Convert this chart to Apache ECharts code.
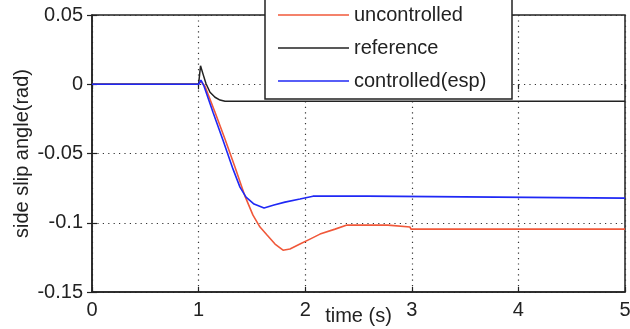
<!DOCTYPE html>
<html>
<head>
<meta charset="utf-8">
<script src="https://cdn.jsdelivr.net/npm/echarts@6/dist/echarts.min.js"></script>
<style>
  html, body { margin: 0; padding: 0; background: #fff; }
  #chart { width: 630px; height: 329px; }
</style>
</head>
<body>
<div id="chart"></div>
<script>
// Side slip angle response to a steering input, with and without ESP.
const uncontrolledT = [0, 1.0, 1.022, 1.06, 1.154, 1.248, 1.341, 1.435, 1.51, 1.576, 1.642, 1.717, 1.792, 1.857, 1.951, 2.045, 2.139, 2.28, 2.392, 2.777, 2.786, 2.983, 2.992, 5];
const uncontrolledV = [0, 0, 0.0022, -0.0014, -0.0202, -0.0397, -0.0598, -0.0808, -0.0945, -0.1031, -0.1089, -0.1154, -0.1198, -0.119, -0.1154, -0.1118, -0.1082, -0.1046, -0.1017, -0.1017, -0.1031, -0.1031, -0.1046, -0.1046];

const referenceT = [0, 1.0, 1.018, 1.041, 1.069, 1.107, 1.154, 1.201, 1.248, 5];
const referenceV = [0, 0, 0.0133, 0.0075, 0.0005, -0.0058, -0.0094, -0.0114, -0.0123, -0.0123];

const controlledT = [0, 1.0, 1.022, 1.051, 1.135, 1.229, 1.323, 1.388, 1.445, 1.52, 1.614, 1.707, 1.81, 1.951, 2.073, 2.58, 2.589, 5];
const controlledV = [0, 0, 0.0029, -0.0014, -0.0202, -0.0404, -0.0613, -0.0743, -0.0815, -0.0865, -0.0894, -0.0872, -0.0851, -0.0829, -0.0808, -0.0808, -0.0822, -0.0822];

const seriesNames = ['uncontrolled', 'reference', 'controlled(esp)'];
const seriesColors = ['#f0583a', '#222222', '#1f28f5'];
const xTicks = [0, 1, 2, 3, 4, 5];
const yTicks = [-0.15, -0.1, -0.05, 0, 0.05];

const zip = (t, v) => t.map((x, i) => [x, v[i]]);

const FONT = 'Liberation Sans, Arial, sans-serif';
const INK = '#222';
const dotted = { color: '#333', width: 1.2, type: [1.2, 4.2] };

const chart = echarts.init(document.getElementById('chart'), null, { renderer: 'canvas' });

const hiddenAxisCommon = {
  axisLine: { show: false },
  axisLabel: { show: false },
  splitLine: { show: false },
  axisTick: { show: true, inside: true, length: 5, lineStyle: { color: INK, width: 1.2 } }
};

chart.setOption({
  animation: false,
  backgroundColor: '#fff',
  grid: {
    left: 92, right: 5, top: 15, bottom: 37,
    outerBoundsMode: 'none', containLabel: false,
    show: true, borderColor: INK, borderWidth: 1.5, backgroundColor: 'transparent'
  },
  xAxis: [{
    type: 'value',
    min: xTicks[0], max: xTicks[xTicks.length - 1], interval: 1,
    name: 'time (s)', nameLocation: 'middle', nameGap: 14, nameMoveOverlap: false,
    nameTextStyle: { fontFamily: FONT, fontSize: 20, color: INK },
    axisLine: { show: true, onZero: false, lineStyle: { color: INK, width: 1.5 } },
    axisTick: { show: true, inside: true, length: 5, lineStyle: { color: INK, width: 1.2 } },
    axisLabel: { fontFamily: FONT, fontSize: 20, color: INK, margin: 8 },
    splitLine: { show: true, lineStyle: dotted }
  }, Object.assign({
    type: 'value', position: 'top',
    min: xTicks[0], max: xTicks[xTicks.length - 1], interval: 1
  }, hiddenAxisCommon)],
  yAxis: [{
    type: 'value',
    min: yTicks[0], max: yTicks[yTicks.length - 1], interval: 0.05,
    name: 'side slip angle(rad)', nameLocation: 'middle', nameGap: 60, nameMoveOverlap: false,
    nameTextStyle: { fontFamily: FONT, fontSize: 20, color: INK },
    axisLine: { show: true, onZero: false, lineStyle: { color: INK, width: 1.5 } },
    axisTick: { show: true, inside: true, length: 5, lineStyle: { color: INK, width: 1.2 } },
    axisLabel: {
      fontFamily: FONT, fontSize: 20, color: INK, margin: 9,
      formatter: v => String(+v.toFixed(2))
    },
    splitLine: { show: true, lineStyle: dotted }
  }, Object.assign({
    type: 'value', position: 'right',
    min: yTicks[0], max: yTicks[yTicks.length - 1], interval: 0.05
  }, hiddenAxisCommon)],
  legend: {
    orient: 'vertical',
    left: 278, top: 5,
    padding: 0,
    itemWidth: 71, itemHeight: 1.6, itemGap: 13,
    icon: 'rect',
    textStyle: { fontFamily: FONT, fontSize: 20, color: INK },
    data: seriesNames,
    z: 10
  },
  graphic: [{
    type: 'rect',
    z: 5,
    shape: { x: 265, y: -5, width: 247, height: 104 },
    style: { fill: '#fff', stroke: INK, lineWidth: 1.5 }
  }],
  series: [
    {
      name: seriesNames[0], type: 'line', data: zip(uncontrolledT, uncontrolledV),
      symbol: 'none', lineStyle: { color: seriesColors[0], width: 1.6 }, itemStyle: { color: seriesColors[0] }
    },
    {
      name: seriesNames[1], type: 'line', data: zip(referenceT, referenceV),
      symbol: 'none', lineStyle: { color: seriesColors[1], width: 1.5 }, itemStyle: { color: seriesColors[1] }
    },
    {
      name: seriesNames[2], type: 'line', data: zip(controlledT, controlledV),
      symbol: 'none', lineStyle: { color: seriesColors[2], width: 1.6 }, itemStyle: { color: seriesColors[2] }
    }
  ]
});
</script>
</body>
</html>
